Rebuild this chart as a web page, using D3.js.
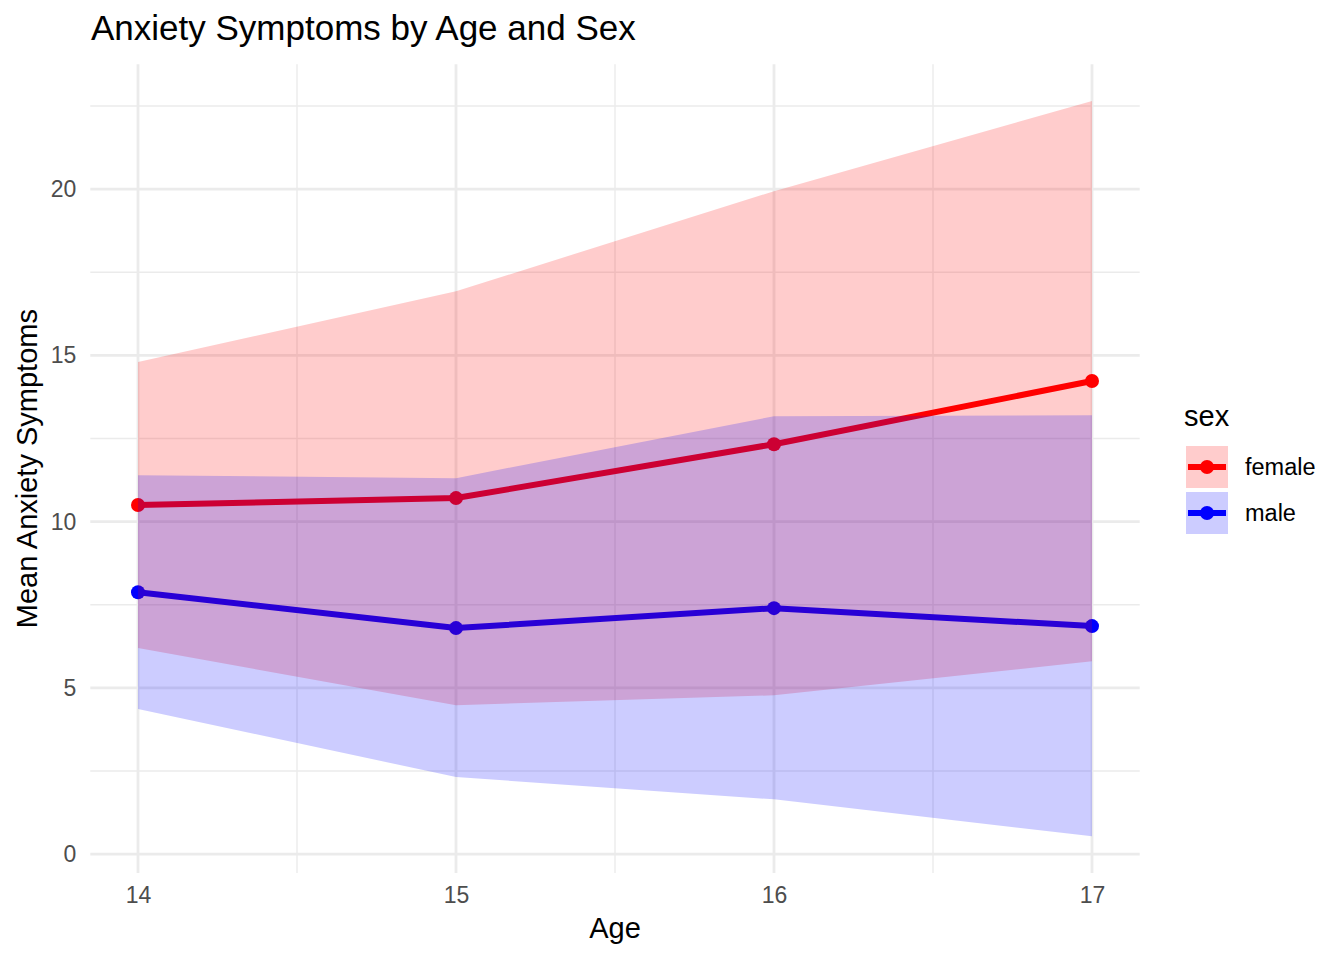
<!DOCTYPE html>
<html>
<head>
<meta charset="utf-8">
<script src="https://cdn.jsdelivr.net/npm/d3@7"></script>
<style>
  html, body { margin: 0; padding: 0; background: #fff; }
  svg { display: block; font-family: "Liberation Sans", Arial, Helvetica, sans-serif; }
</style>
</head>
<body>
<svg id="chart" width="1344" height="960"></svg>
<script>
// ---- data ----
const ages = [14, 15, 16, 17];
const sexes = ["female", "male"];
const femaleMean  = [10.50, 10.71, 12.33, 14.23];
const femaleLower = [6.20, 4.48, 4.78, 5.80];
const femaleUpper = [14.80, 16.93, 19.94, 22.65];
const maleMean  = [7.88, 6.80, 7.40, 6.86];
const maleLower = [4.37, 2.32, 1.65, 0.54];
const maleUpper = [11.40, 11.31, 13.17, 13.20];
const xTicks = [14, 15, 16, 17];
const xMinor = [14.5, 15.5, 16.5];
const yTicks = [0, 5, 10, 15, 20];
const yMinor = [2.5, 7.5, 12.5, 17.5, 22.5];
const colors = { female: "#FF0000", male: "#0000FF" };

const series = [
  { sex: "female", mean: femaleMean, lower: femaleLower, upper: femaleUpper },
  { sex: "male", mean: maleMean, lower: maleLower, upper: maleUpper }
].map(s => ({
  sex: s.sex,
  values: ages.map((a, i) => ({ age: a, mean: s.mean[i], lower: s.lower[i], upper: s.upper[i] }))
}));

// ---- layout ----
const panel = { left: 90.3, right: 1139.7, top: 64.3, bottom: 873 };
const svg = d3.select("#chart");

const allVals = series.flatMap(s => s.values.flatMap(v => [v.lower, v.upper, v.mean]));
const yMin = d3.min(allVals), yMax = d3.max(allVals);
const yPad = (yMax - yMin) * 0.05;
const xPad = (d3.max(ages) - d3.min(ages)) * 0.05;

const x = d3.scaleLinear()
  .domain([d3.min(ages) - xPad, d3.max(ages) + xPad])
  .range([panel.left, panel.right]);
const y = d3.scaleLinear()
  .domain([yMin - yPad, yMax + yPad])
  .range([panel.bottom, panel.top]);

// ---- grid ----
const grid = svg.append("g");
grid.selectAll(".ymin").data(yMinor).join("line")
  .attr("x1", panel.left).attr("x2", panel.right)
  .attr("y1", d => y(d)).attr("y2", d => y(d))
  .attr("stroke", "#ebebeb").attr("stroke-width", 1.4);
grid.selectAll(".xmin").data(xMinor).join("line")
  .attr("y1", panel.top).attr("y2", panel.bottom)
  .attr("x1", d => x(d)).attr("x2", d => x(d))
  .attr("stroke", "#ebebeb").attr("stroke-width", 1.4);
grid.selectAll(".ymaj").data(yTicks).join("line")
  .attr("x1", panel.left).attr("x2", panel.right)
  .attr("y1", d => y(d)).attr("y2", d => y(d))
  .attr("stroke", "#ebebeb").attr("stroke-width", 2.8);
grid.selectAll(".xmaj").data(xTicks).join("line")
  .attr("y1", panel.top).attr("y2", panel.bottom)
  .attr("x1", d => x(d)).attr("x2", d => x(d))
  .attr("stroke", "#ebebeb").attr("stroke-width", 2.8);

// ---- axes (labels only) ----
const xAxis = svg.append("g")
  .attr("transform", `translate(0,${panel.bottom})`)
  .call(d3.axisBottom(x).tickValues(xTicks).tickSize(0).tickPadding(14).tickFormat(d3.format("d")));
xAxis.select(".domain").remove();
xAxis.selectAll("text").attr("font-size", 23).attr("fill", "#4d4d4d")
  .attr("font-family", "Liberation Sans, Arial, sans-serif");

const yAxis = svg.append("g")
  .attr("transform", `translate(${panel.left},0)`)
  .call(d3.axisLeft(y).tickValues(yTicks).tickSize(0).tickPadding(14).tickFormat(d3.format("d")));
yAxis.select(".domain").remove();
yAxis.selectAll("text").attr("font-size", 23).attr("fill", "#4d4d4d")
  .attr("font-family", "Liberation Sans, Arial, sans-serif");

// ---- lines & points ----
const line = d3.line().x(d => x(d.age)).y(d => y(d.mean));
const marks = svg.append("g");
series.forEach(s => {
  marks.append("path").datum(s.values)
    .attr("d", line).attr("fill", "none")
    .attr("stroke", colors[s.sex]).attr("stroke-width", 6)
    .attr("stroke-linejoin", "round").attr("stroke-linecap", "butt");
});
series.forEach(s => {
  marks.selectAll(null).data(s.values).join("circle")
    .attr("cx", d => x(d.age)).attr("cy", d => y(d.mean)).attr("r", 7)
    .attr("fill", colors[s.sex]);
});

// ---- ribbons (drawn on top, translucent) ----
const area = d3.area().x(d => x(d.age)).y0(d => y(d.lower)).y1(d => y(d.upper));
series.forEach(s => {
  svg.append("path").datum(s.values)
    .attr("d", area).attr("fill", colors[s.sex]).attr("fill-opacity", 0.2);
});

// ---- titles ----
svg.append("text").attr("x", 91).attr("y", 40)
  .attr("font-size", 35).attr("fill", "#000")
  .text("Anxiety Symptoms by Age and Sex");
svg.append("text").attr("x", (panel.left + panel.right) / 2).attr("y", 938)
  .attr("text-anchor", "middle").attr("font-size", 29).attr("fill", "#000")
  .text("Age");
svg.append("text")
  .attr("transform", `translate(37,${(panel.top + panel.bottom) / 2}) rotate(-90)`)
  .attr("text-anchor", "middle").attr("font-size", 29).attr("fill", "#000")
  .text("Mean Anxiety Symptoms");

// ---- legend ----
const legend = svg.append("g");
legend.append("text").attr("x", 1184).attr("y", 426)
  .attr("font-size", 29).attr("fill", "#000").text("sex");
const keyY = [446, 492];
sexes.forEach((sx, i) => {
  const g = legend.append("g").attr("transform", `translate(1186,${keyY[i]})`);
  g.append("rect").attr("width", 42).attr("height", 42)
    .attr("fill", colors[sx]).attr("fill-opacity", 0.2);
  g.append("line").attr("x1", 2).attr("x2", 40).attr("y1", 21).attr("y2", 21)
    .attr("stroke", colors[sx]).attr("stroke-width", 6);
  g.append("circle").attr("cx", 21).attr("cy", 21).attr("r", 7).attr("fill", colors[sx]);
  g.append("text").attr("x", 59).attr("y", 21).attr("dy", "0.35em")
    .attr("font-size", 23.5).attr("fill", "#000").text(sx);
});
</script>
</body>
</html>
